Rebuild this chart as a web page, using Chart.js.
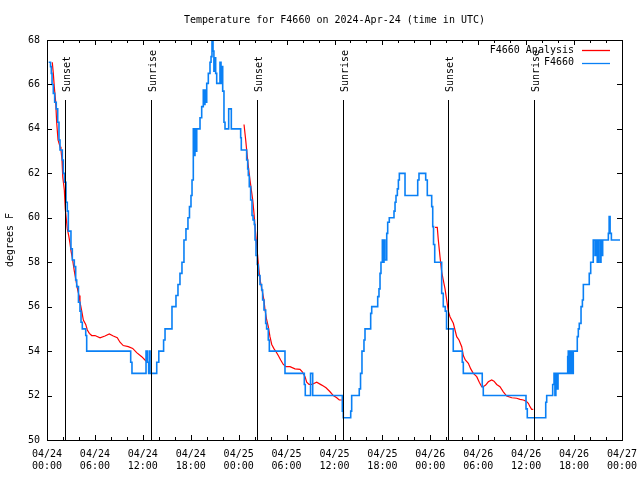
<!DOCTYPE html>
<html>
<head>
<meta charset="utf-8">
<script src="https://cdn.jsdelivr.net/npm/chart.js@4.4.1/dist/chart.umd.min.js"></script>
<style>
  html, body { margin: 0; padding: 0; background: #ffffff; }
  canvas { display: block; }
</style>
</head>
<body>
<canvas id="c" width="640" height="480"></canvas>
<script>
// ---- Data (hours since 2024-04-24 00:00 UTC) ----
const obsHours = [0.21,0.44,0.54,0.63,0.79,0.96,1.16,1.34,1.50,1.63,1.92,2.04,2.19,2.38,2.54,2.67,3.00,3.17,3.42,3.59,3.72,3.94,4.13,4.26,4.42,4.85,4.97,10.48,10.64,12.40,12.56,12.73,12.81,12.90,13.74,14.00,14.60,14.78,15.65,16.15,16.40,16.65,16.90,17.15,17.40,17.65,17.84,18.03,18.16,18.32,18.45,18.53,18.62,18.75,19.16,19.37,19.57,19.70,19.78,19.90,20.00,20.20,20.41,20.54,20.66,20.79,20.90,21.04,21.12,21.25,21.66,21.79,21.87,22.00,22.16,22.29,22.75,23.08,24.25,24.33,25.00,25.13,25.21,25.33,25.50,25.67,25.80,25.96,26.05,26.17,26.33,26.46,26.67,26.88,27.00,27.17,27.38,27.50,27.71,27.84,29.80,32.22,32.34,33.00,33.27,36.98,37.10,38.03,38.15,39.10,39.26,39.44,39.69,39.82,40.53,40.66,41.41,41.57,41.70,41.82,41.99,42.07,42.20,42.32,42.54,42.66,42.86,43.45,43.58,43.70,43.87,44.00,44.12,44.83,46.42,46.58,47.42,47.62,48.17,48.30,48.40,48.55,49.42,49.62,49.87,50.03,50.87,52.00,52.13,54.50,54.63,59.98,60.14,62.45,62.57,63.32,63.49,63.60,63.72,63.82,63.99,65.20,65.27,65.40,65.52,65.70,65.90,66.40,66.53,66.65,66.87,67.04,67.16,67.90,68.08,68.40,68.62,68.75,68.90,69.04,69.25,69.37,69.46,69.58,70.29,70.39,70.51,70.67,71.75];
const obsTemps = [67.0,66.8,66.5,66.0,65.6,65.2,64.9,64.3,63.5,63.05,62.6,62.0,61.6,60.7,60.3,59.4,58.6,58.1,57.8,57.2,56.9,56.2,55.8,55.3,55.0,54.7,54.0,53.5,53.0,54,53.5,53,54,53,53.5,54,54.5,55,56,56.5,57,57.5,58,59,59.5,60,60.5,61,61.7,64,62.8,64,63,64,64.5,65.0,65.75,65.1,65.75,65.2,66.05,66.5,67.0,67.25,68.0,67.5,66.6,67.2,66.5,66.05,67.0,66.05,66.8,65.7,64.3,64.0,64.9,64.0,63.6,63.05,62.6,62.2,61.9,61.4,60.8,60.1,59.9,59.7,59.0,58.3,57.9,57.4,57.0,56.75,56.3,55.85,55.25,55.0,54.5,54.0,53.0,52.5,52.0,53.0,52.0,51.3,51.0,51.3,52.0,52.3,53,54,54.5,55,55.7,56.0,56.45,56.8,57.5,58.0,59,58,59,58.1,59.3,59.8,60.0,60.3,60.7,61.0,61.3,61.7,62.0,61.0,61.7,62.0,61.7,61.0,60.5,59.6,58.8,58.0,56.6,56.0,55.8,55.0,54.0,53.5,53.0,52.4,52.0,51.4,51.0,51.7,52.0,52.5,53.0,52.0,53.0,52.3,53.0,53.75,54,53,54,53,54,54.65,55,55.25,56,56.3,57,57.5,58,59,58.3,59,58,59,58,59,58.3,59,59.3,60.05,59.3,59,59];

const anaHours = [0.66,0.79,0.91,1.09,1.21,1.38,1.63,1.75,1.88,1.97,2.17,2.29,2.54,2.72,2.88,3.01,3.17,3.42,3.84,4.01,4.13,4.35,4.55,4.85,5.05,5.30,5.60,6.01,6.64,7.26,7.80,8.30,8.80,9.14,9.55,10.18,10.73,11.23,11.86,12.27,12.56,12.90,
  18.0,
  24.67,24.88,25.08,25.26,25.42,25.76,25.92,26.05,26.46,26.58,26.76,27.17,27.30,27.51,27.71,27.92,28.14,28.43,28.68,28.96,29.26,29.59,29.93,30.43,31.05,31.68,31.97,32.31,32.52,32.81,33.15,33.77,34.40,34.94,35.44,35.85,36.28,36.60,36.90,
  42.0,
  48.58,48.87,49.00,49.21,49.42,49.62,49.84,50.05,50.25,50.46,50.88,51.09,51.30,51.59,51.93,52.13,52.38,52.76,53.06,53.38,53.81,54.13,54.43,54.63,54.93,55.26,55.68,55.97,56.31,56.72,57.14,57.56,58.19,58.81,59.23,59.64,59.98,60.27,60.48,60.69,60.89];
const anaTemps = [67.0,66.5,65.9,65.2,64.3,63.5,63.2,63.05,62.6,61.85,61.25,60.4,59.5,59.2,58.85,58.5,58.2,57.6,56.75,56.5,56.2,55.8,55.4,55.2,54.95,54.8,54.7,54.7,54.6,54.68,54.77,54.68,54.6,54.4,54.25,54.2,54.12,53.93,53.75,53.6,53.5,53.45,
  null,
  64.2,63.5,62.75,62.15,61.7,60.8,60.2,59.6,57.95,57.5,57.05,56.3,55.85,55.4,55.1,54.65,54.3,54.1,53.97,53.8,53.6,53.4,53.3,53.3,53.2,53.18,53.07,52.85,52.6,52.5,52.5,52.6,52.47,52.35,52.17,52.0,51.9,51.8,51.8,
  null,
  59.57,59.57,59.0,58.25,57.57,57.2,56.8,56.3,55.8,55.55,55.25,54.95,54.65,54.5,54.2,53.8,53.6,53.45,53.2,53.0,52.85,52.6,52.4,52.4,52.47,52.62,52.7,52.65,52.5,52.4,52.17,51.98,51.9,51.88,51.83,51.8,51.75,51.65,51.5,51.38,51.38];

const sunHours  = [2.25, 13.02, 26.33, 37.10, 50.25, 61.02];
const sunLabels = ['Sunset', 'Sunrise', 'Sunset', 'Sunrise', 'Sunset', 'Sunrise'];

const tickDays  = ['04/24','04/24','04/24','04/24','04/25','04/25','04/25','04/25','04/26','04/26','04/26','04/26','04/27'];
const tickTimes = ['00:00','06:00','12:00','18:00','00:00','06:00','12:00','18:00','00:00','06:00','12:00','18:00','00:00'];

const seriesNames = ['F4660 Analysis', 'F4660'];
const seriesColors = ['#ff0000', '#0a80f5'];

const FONT = "'DejaVu Sans Mono', 'Liberation Mono', monospace";

const obsData = obsHours.map((h, i) => ({ x: h, y: obsTemps[i] }));
const anaData = anaHours.map((h, i) => ({ x: h, y: anaTemps[i] }));

const framePlugin = {
  id: 'frame',
  afterDatasetsDraw(chart) {
    const { ctx, chartArea: a, scales } = chart;
    const xs = scales.x, ys = scales.y;
    ctx.save();
    // sunrise / sunset lines
    ctx.strokeStyle = '#000';
    ctx.lineWidth = 1;
    ctx.fillStyle = '#000';
    ctx.font = '10px ' + FONT;
    sunHours.forEach((h, i) => {
      const x = Math.round(xs.getPixelForValue(h)) + 0.5;
      ctx.beginPath();
      ctx.moveTo(x, a.top + 60);
      ctx.lineTo(x, a.bottom);
      ctx.stroke();
      ctx.save();
      ctx.translate(x + 1.5, a.top + 52);
      ctx.rotate(-Math.PI / 2);
      ctx.textAlign = 'left';
      ctx.textBaseline = 'middle';
      ctx.fillText(sunLabels[i], 0, 0);
      ctx.restore();
    });
    // frame
    ctx.strokeRect(Math.round(a.left) + 0.5, Math.round(a.top) + 0.5,
                   Math.round(a.right - a.left), Math.round(a.bottom - a.top));
    // x ticks (major every 6h, minor every 2h), inward on bottom and top
    for (let h = 0; h <= 72; h += 2) {
      const x = Math.round(xs.getPixelForValue(h)) + 0.5;
      const len = (h % 6 === 0) ? 5 : 3;
      ctx.beginPath();
      ctx.moveTo(x, a.bottom); ctx.lineTo(x, a.bottom - len);
      ctx.moveTo(x, a.top); ctx.lineTo(x, a.top + len);
      ctx.stroke();
    }
    // y ticks
    for (let v = 50; v <= 68; v += 2) {
      const y = Math.round(ys.getPixelForValue(v)) + 0.5;
      ctx.beginPath();
      ctx.moveTo(a.left, y); ctx.lineTo(a.left + 5, y);
      ctx.moveTo(a.right, y); ctx.lineTo(a.right - 5, y);
      ctx.stroke();
    }
    // legend
    ctx.textAlign = 'right';
    ctx.textBaseline = 'middle';
    const lx = a.right - 48, ly = a.top + 10;
    seriesNames.forEach((n, i) => {
      const y = ly + i * 12.5;
      ctx.fillStyle = '#000';
      ctx.fillText(n, lx, y);
      ctx.strokeStyle = seriesColors[i];
      ctx.lineWidth = 1.3;
      ctx.beginPath();
      ctx.moveTo(lx + 8, Math.round(y) + 0.5);
      ctx.lineTo(lx + 36, Math.round(y) + 0.5);
      ctx.stroke();
    });
    ctx.restore();
  }
};

Chart.defaults.font.family = FONT;
Chart.defaults.font.size = 10;
Chart.defaults.color = '#000';

new Chart(document.getElementById('c'), {
  type: 'line',
  data: {
    datasets: [
      { label: seriesNames[1], data: obsData, borderColor: seriesColors[1], borderWidth: 1.6,
        stepped: 'before', pointRadius: 0, fill: false, order: 0 },
      { label: seriesNames[0], data: anaData, borderColor: seriesColors[0], borderWidth: 1.2,
        tension: 0, pointRadius: 0, fill: false, spanGaps: false, order: 1 }
    ]
  },
  options: {
    responsive: false,
    animation: false,
    events: [],
    layout: { padding: { left: 0, right: 18, top: 0, bottom: 0 } },
    plugins: {
      legend: { display: false },
      tooltip: { enabled: false },
      title: {
        display: true,
        fullSize: false,
        text: 'Temperature for F4660 on 2024-Apr-24 (time in UTC)',
        font: { size: 10, weight: 'normal', lineHeight: 1.2 },
        color: '#000',
        padding: { top: 14, bottom: 14 }
      }
    },
    scales: {
      x: {
        type: 'linear',
        min: 0, max: 72,
        grid: { display: false, drawTicks: false },
        border: { display: false },
        ticks: {
          stepSize: 6, autoSkip: false, maxRotation: 0, padding: 8,
          font: { size: 10, lineHeight: 1.25 },
          callback: (v) => { const i = Math.round(v / 6); return [tickDays[i], tickTimes[i]]; }
        },
        afterFit: (s) => { s.height = 40; s.paddingLeft = 0; s.paddingRight = 0; }
      },
      y: {
        min: 50, max: 68,
        grid: { display: false, drawTicks: false },
        border: { display: false },
        ticks: { stepSize: 2, padding: 7, font: { size: 10 } },
        title: { display: true, text: 'degrees F', font: { size: 10 }, padding: { top: 4, bottom: 0 } },
        afterFit: (s) => { s.width = 47; s.paddingTop = 0; s.paddingBottom = 0; }
      }
    }
  },
  plugins: [framePlugin]
});
</script>
</body>
</html>
